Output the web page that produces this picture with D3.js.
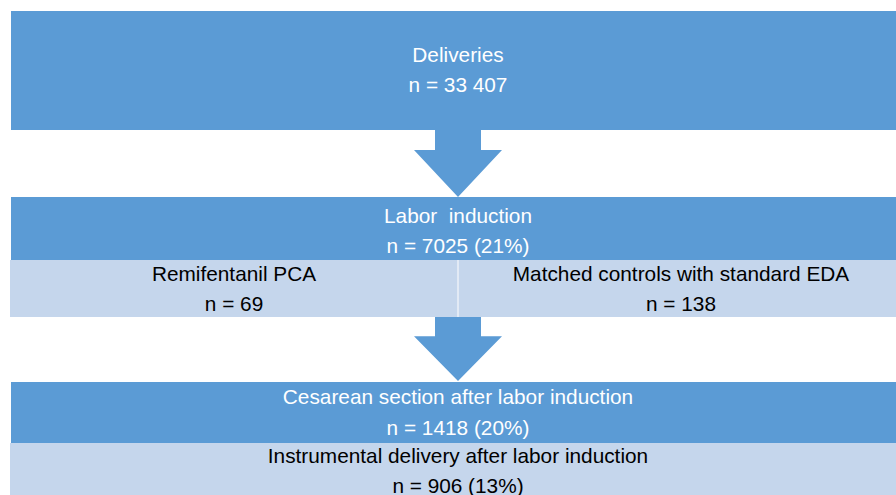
<!DOCTYPE html>
<html>
<head>
<meta charset="utf-8">
<script src="https://cdn.jsdelivr.net/npm/d3@7"></script>
<style>
  body { margin: 0; background: #fff; }
  text { font-family: "Liberation Sans", Arial, sans-serif; font-size: 20.8px; white-space: pre; }
</style>
</head>
<body>
<div id="flow"></div>
<script>
// Flow chart content
var stageLabels = ["Deliveries", "Labor  induction", "Cesarean section after labor induction"];
var stageCounts = ["n = 33 407", "n = 7025 (21%)", "n = 1418 (20%)"];
var groupLabels = ["Remifentanil PCA", "Matched controls with standard EDA"];
var groupCounts = ["n = 69", "n = 138"];
var outcomeLabels = ["Instrumental delivery after labor induction"];
var outcomeCounts = ["n = 906 (13%)"];

var svgWidth = 896;
var svgHeight = 495;

var dark = "#5b9bd5";
var light = "#c5d6ec";

var svg = d3.select("#flow")
  .append("svg")
  .attr("width", svgWidth)
  .attr("height", svgHeight);

// horizontal extent of the boxes
var x = d3.scaleLinear().domain([0, 1]).range([11, 905]);
var groupX = d3.scaleBand().domain(groupLabels).range([10, 907]);

// two text lines centred on cx, given their baselines
function twoLines(cx, b1, b2, a, b, color) {
  svg.append("text")
    .attr("x", cx).attr("y", b1)
    .attr("text-anchor", "middle")
    .attr("fill", color)
    .text(a);
  svg.append("text")
    .attr("x", cx).attr("y", b2)
    .attr("text-anchor", "middle")
    .attr("fill", color)
    .text(b);
}

function arrow(y0, y1) {
  var cx = 458;
  var sy = y0 + (y1 - y0) * 0.3;
  var pts = [[cx - 23, y0], [cx + 23, y0], [cx + 23, sy], [cx + 44, sy],
             [cx, y1], [cx - 44, sy], [cx - 23, sy]];
  svg.append("path")
    .attr("d", d3.line()(pts) + "Z")
    .attr("fill", dark);
}

// Stage 1
svg.append("rect").attr("x", x(0)).attr("y", 11)
  .attr("width", x(1) - x(0)).attr("height", 119).attr("fill", dark);
twoLines(458, 62.3, 92.3, stageLabels[0], stageCounts[0], "#fff");

arrow(130, 197);

// Stage 2
svg.append("rect").attr("x", x(0)).attr("y", 197)
  .attr("width", x(1) - x(0)).attr("height", 63).attr("fill", dark);
twoLines(458, 223.3, 253.3, stageLabels[1], stageCounts[1], "#fff");

// Groups
groupLabels.forEach(function (g, i) {
  svg.append("rect")
    .attr("x", groupX(g)).attr("y", 260)
    .attr("width", groupX.bandwidth() - (i === 0 ? 1 : 0)).attr("height", 57)
    .attr("fill", light);
  var cx = i === 0 ? 234 : 681;
  twoLines(cx, 280.5, 310.5, g, groupCounts[i], "#000");
});

arrow(317, 381);

// Stage 3
svg.append("rect").attr("x", x(0)).attr("y", 382)
  .attr("width", x(1) - x(0)).attr("height", 61).attr("fill", dark);
twoLines(458, 403.5, 434.5, stageLabels[2], stageCounts[2], "#fff");

// Outcome
svg.append("rect").attr("x", 10).attr("y", 443)
  .attr("width", 897).attr("height", 60).attr("fill", light);
twoLines(458, 462.5, 493, outcomeLabels[0], outcomeCounts[0], "#000");
</script>
</body>
</html>
